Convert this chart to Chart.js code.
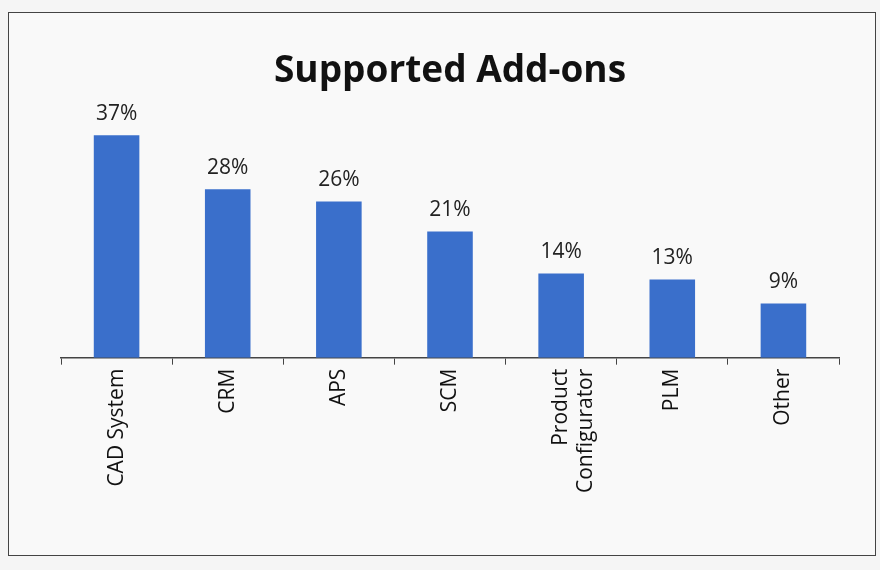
<!DOCTYPE html>
<html>
<head>
<meta charset="utf-8">
<script src="https://cdn.jsdelivr.net/npm/chart.js@4"></script>
<style>
  body { margin: 0; background: #f5f5f5; }
  #box { position: absolute; left: 8px; top: 12px; width: 866px; height: 542px;
         border: 1px solid #444; background: #f9f9f9; }
</style>
</head>
<body>
<div id="box"><canvas id="chart" width="866" height="542"></canvas></div>
<script>
const categories = ['CAD System', 'CRM', 'APS', 'SCM', ['Product', 'Configurator'], 'PLM', 'Other'];
const shares = [37, 28, 26, 21, 14, 13, 9];

// draws the % value above every bar
const valueLabels = {
    id: 'valueLabels',
    afterDatasetsDraw(chart) {
        const ctx = chart.ctx;
        ctx.save();
        ctx.font = '21px "Open Sans", sans-serif';
        ctx.fillStyle = '#222';
        ctx.textAlign = 'center';
        ctx.textBaseline = 'bottom';
        chart.getDatasetMeta(0).data.forEach((bar, i) => {
            ctx.fillText(shares[i] + '%', bar.x, bar.y - 11);
        });
        ctx.restore();
    }
};

new Chart(document.getElementById('chart').getContext('2d'), {
    type: 'bar',
    data: {
        labels: categories,
        datasets: [{
            label: 'Supported Add-ons',
            data: shares,
            backgroundColor: '#3a6fcb',
            categoryPercentage: 1,
            barPercentage: 0.41,
        }],
    },
    options: {
        responsive: false,
        animation: false,
        layout: { padding: { left: 52, right: 36, top: 0, bottom: 58 } },
        plugins: {
            legend: { display: false },
            tooltip: { enabled: false },
            title: {
                display: true,
                text: 'Supported Add-ons',
                color: '#111',
                font: { family: '"Open Sans", sans-serif', size: 37, weight: 'bold' },
                padding: { top: 36, bottom: 10 },
            },
        },
        scales: {
            x: {
                border: { display: true, color: '#444', width: 1.5 },
                grid: { offset: true, drawOnChartArea: false, drawTicks: true, tickLength: 7, color: '#444' },
                ticks: {
                    minRotation: 90, maxRotation: 90,
                    color: '#111',
                    padding: 4,
                    font: { family: '"Open Sans", sans-serif', size: 21 },
                },
            },
            y: {
                display: false,
                beginAtZero: true,
                max: 42.3,
            },
        },
    },
    plugins: [valueLabels],
});
</script>
</body>
</html>
